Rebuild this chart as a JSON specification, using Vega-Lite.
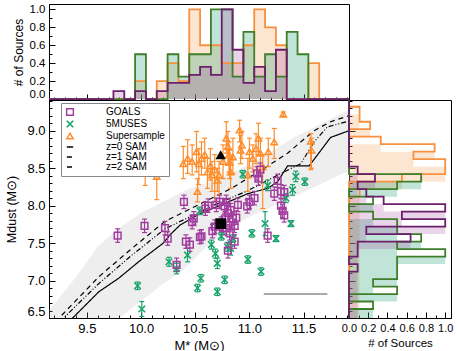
{
"$schema": "https://vega.github.io/schema/vega-lite/v6.json",
"padding": {"left": 5, "top": 2, "right": 0, "bottom": 0},
"background": "white",
"config": {
 "font": "Liberation Sans",
 "view": {"stroke": "#000", "strokeWidth": 1},
 "axis": {"domainColor": "#000", "tickColor": "#000", "labelColor": "#000", "titleColor": "#000", "grid": false, "labelFont": "Liberation Sans", "titleFont": "Liberation Sans", "titleFontWeight": "normal", "domainWidth": 1, "tickWidth": 1, "labelOverlap": false},
 "axisX": {"labelFlush": false},
 "axisY": {"labelFlush": true}
},
"datasets": {
 "band": [
  {"x":9.15,"y":6.5,"hi":6.6},{"x":9.4,"y":6.5,"hi":7.05},{"x":9.6,"y":6.5,"hi":7.45},{"x":9.8,"y":6.5,"hi":7.7},{"x":10.0,"y":6.73,"hi":7.9},{"x":10.2,"y":6.95,"hi":8.05},{"x":10.4,"y":7.15,"hi":8.2},{"x":10.6,"y":7.45,"hi":8.3},{"x":10.8,"y":7.67,"hi":8.42},{"x":11.0,"y":7.85,"hi":8.55},{"x":11.2,"y":7.98,"hi":8.72},{"x":11.4,"y":8.11,"hi":8.9},{"x":11.6,"y":8.25,"hi":9.05},{"x":11.92,"y":8.47,"hi":9.28}
 ],
 "sam": [
  {"series":"z=0 SAM","x":9.334,"y":6.45},{"series":"z=0 SAM","x":9.61,"y":6.85},{"series":"z=0 SAM","x":9.793,"y":7.03},{"series":"z=0 SAM","x":9.977,"y":7.25},{"series":"z=0 SAM","x":10.206,"y":7.5},{"series":"z=0 SAM","x":10.267,"y":7.61},{"series":"z=0 SAM","x":10.359,"y":7.74},{"series":"z=0 SAM","x":10.527,"y":7.88},{"series":"z=0 SAM","x":10.772,"y":8.03},{"series":"z=0 SAM","x":10.986,"y":8.16},{"series":"z=0 SAM","x":11.169,"y":8.23},{"series":"z=0 SAM","x":11.261,"y":8.32},{"series":"z=0 SAM","x":11.353,"y":8.53},{"series":"z=0 SAM","x":11.552,"y":8.53},{"series":"z=0 SAM","x":11.75,"y":8.91},{"series":"z=0 SAM","x":11.92,"y":9.0},
  {"series":"z=1 SAM","x":9.25,"y":6.45},{"series":"z=1 SAM","x":9.61,"y":6.96},{"series":"z=1 SAM","x":9.916,"y":7.34},{"series":"z=1 SAM","x":10.221,"y":7.69},{"series":"z=1 SAM","x":10.435,"y":7.84},{"series":"z=1 SAM","x":10.68,"y":8.01},{"series":"z=1 SAM","x":10.986,"y":8.2},{"series":"z=1 SAM","x":11.292,"y":8.43},{"series":"z=1 SAM","x":11.475,"y":8.56},{"series":"z=1 SAM","x":11.597,"y":8.85},{"series":"z=1 SAM","x":11.72,"y":9.05},{"series":"z=1 SAM","x":11.92,"y":9.13},
  {"series":"z=2 SAM","x":9.21,"y":6.45},{"series":"z=2 SAM","x":9.61,"y":7.05},{"series":"z=2 SAM","x":9.916,"y":7.43},{"series":"z=2 SAM","x":10.221,"y":7.79},{"series":"z=2 SAM","x":10.527,"y":8.01},{"series":"z=2 SAM","x":10.833,"y":8.23},{"series":"z=2 SAM","x":11.139,"y":8.5},{"series":"z=2 SAM","x":11.353,"y":8.7},{"series":"z=2 SAM","x":11.597,"y":9.0},{"series":"z=2 SAM","x":11.75,"y":9.12},{"series":"z=2 SAM","x":11.92,"y":9.2}
 ],
 "bar": [{"x":11.133,"x2":11.72,"y":6.82}],
 "black": [{"kind":"sq","x":10.735,"y":7.76},{"kind":"tri","x":10.735,"y":8.68}],
 "pts": [
  {"series":"Supersample","x":10.038,"y":8.46,"lo":8.27,"hi":8.53},
  {"series":"Supersample","x":10.145,"y":8.39,"lo":8.08,"hi":8.73},
  {"series":"Supersample","x":10.39,"y":8.56,"lo":8.36,"hi":8.79},
  {"series":"Supersample","x":10.43,"y":8.63,"lo":8.43,"hi":8.88},
  {"series":"Supersample","x":10.472,"y":8.59,"lo":8.41,"hi":8.81},
  {"series":"Supersample","x":10.512,"y":8.72,"lo":8.45,"hi":8.99},
  {"series":"Supersample","x":10.533,"y":8.56,"lo":8.28,"hi":8.76},
  {"series":"Supersample","x":10.521,"y":8.19,"lo":8.05,"hi":8.36},
  {"series":"Supersample","x":10.613,"y":8.45,"lo":8.23,"hi":8.63},
  {"series":"Supersample","x":10.64,"y":8.53,"lo":8.34,"hi":8.76},
  {"series":"Supersample","x":10.655,"y":8.41,"lo":8.19,"hi":8.59},
  {"series":"Supersample","x":10.68,"y":8.48,"lo":8.05,"hi":8.68},
  {"series":"Supersample","x":10.705,"y":8.34,"lo":8.19,"hi":8.5},
  {"series":"Supersample","x":10.72,"y":8.41,"lo":8.14,"hi":8.59},
  {"series":"Supersample","x":10.787,"y":8.9,"lo":8.7,"hi":9.12},
  {"series":"Supersample","x":10.802,"y":8.79,"lo":8.54,"hi":8.99},
  {"series":"Supersample","x":10.812,"y":8.68,"lo":8.45,"hi":8.85},
  {"series":"Supersample","x":10.818,"y":8.58,"lo":8.36,"hi":8.74},
  {"series":"Supersample","x":10.827,"y":8.45,"lo":8.23,"hi":8.63},
  {"series":"Supersample","x":10.91,"y":9.01,"lo":8.85,"hi":9.14},
  {"series":"Supersample","x":10.919,"y":8.74,"lo":8.56,"hi":8.94},
  {"series":"Supersample","x":10.931,"y":8.81,"lo":8.63,"hi":8.99},
  {"series":"Supersample","x":11.001,"y":8.72,"lo":8.5,"hi":8.9},
  {"series":"Supersample","x":11.062,"y":8.76,"lo":8.56,"hi":8.96},
  {"series":"Supersample","x":11.084,"y":8.9,"lo":8.68,"hi":9.1},
  {"series":"Supersample","x":11.102,"y":8.7,"lo":8.45,"hi":8.9},
  {"series":"Supersample","x":11.123,"y":8.52,"lo":7.96,"hi":8.68},
  {"series":"Supersample","x":11.175,"y":8.72,"lo":8.52,"hi":8.9},
  {"series":"Supersample","x":11.23,"y":8.85,"lo":8.63,"hi":9.03},
  {"series":"Supersample","x":11.313,"y":9.22,"lo":9.19,"hi":9.25},
  {"series":"Supersample","x":11.567,"y":8.86,"lo":8.48,"hi":8.96},
  {"series":"Supersample","x":11.573,"y":8.74,"lo":8.5,"hi":8.9},
  {"series":"Supersample","x":10.588,"y":8.68,"lo":8.5,"hi":8.9},
  {"series":"Supersample","x":10.558,"y":8.63,"lo":8.41,"hi":8.85},
  {"series":"Supersample","x":10.848,"y":8.65,"lo":8.43,"hi":8.9},
  {"series":"Supersample","x":10.986,"y":8.41,"lo":8.19,"hi":8.63},
  {"series":"Supersample","x":11.032,"y":8.63,"lo":8.45,"hi":8.81},
  {"series":"Supersample","x":10.757,"y":8.59,"lo":8.36,"hi":8.81},
  {"series":"5MUSES","x":9.968,"y":6.93,"lo":6.88,"hi":6.98},
  {"series":"5MUSES","x":10.007,"y":6.62,"lo":6.52,"hi":6.72},
  {"series":"5MUSES","x":10.258,"y":7.25,"lo":7.19,"hi":7.31},
  {"series":"5MUSES","x":10.328,"y":7.16,"lo":7.09,"hi":7.23},
  {"series":"5MUSES","x":10.429,"y":7.34,"lo":7.25,"hi":7.43},
  {"series":"5MUSES","x":10.521,"y":6.9,"lo":6.85,"hi":6.95},
  {"series":"5MUSES","x":10.552,"y":7.03,"lo":6.98,"hi":7.08},
  {"series":"5MUSES","x":10.543,"y":7.93,"lo":7.88,"hi":7.98},
  {"series":"5MUSES","x":10.649,"y":7.48,"lo":7.42,"hi":7.54},
  {"series":"5MUSES","x":10.686,"y":7.36,"lo":7.3,"hi":7.42},
  {"series":"5MUSES","x":10.704,"y":7.23,"lo":7.16,"hi":7.3},
  {"series":"5MUSES","x":10.704,"y":6.85,"lo":6.8,"hi":6.9},
  {"series":"5MUSES","x":10.741,"y":7.59,"lo":7.54,"hi":7.64},
  {"series":"5MUSES","x":10.772,"y":7.01,"lo":6.96,"hi":7.06},
  {"series":"5MUSES","x":10.827,"y":7.43,"lo":7.34,"hi":7.52},
  {"series":"5MUSES","x":10.848,"y":7.56,"lo":7.51,"hi":7.61},
  {"series":"5MUSES","x":10.94,"y":8.42,"lo":8.37,"hi":8.47},
  {"series":"5MUSES","x":10.986,"y":7.28,"lo":7.23,"hi":7.33},
  {"series":"5MUSES","x":11.023,"y":7.63,"lo":7.58,"hi":7.68},
  {"series":"5MUSES","x":11.108,"y":7.12,"lo":7.07,"hi":7.17},
  {"series":"5MUSES","x":11.145,"y":7.76,"lo":7.6,"hi":7.92},
  {"series":"5MUSES","x":11.169,"y":8.27,"lo":8.2,"hi":8.34},
  {"series":"5MUSES","x":11.246,"y":7.56,"lo":7.52,"hi":7.6},
  {"series":"5MUSES","x":11.338,"y":8.1,"lo":8.04,"hi":8.16},
  {"series":"5MUSES","x":11.384,"y":7.76,"lo":7.72,"hi":7.8},
  {"series":"5MUSES","x":11.399,"y":8.21,"lo":8.14,"hi":8.28},
  {"series":"5MUSES","x":11.429,"y":8.39,"lo":8.32,"hi":8.46},
  {"series":"5MUSES","x":11.512,"y":8.32,"lo":8.27,"hi":8.37},
  {"series":"5MUSES","x":10.796,"y":7.45,"lo":7.39,"hi":7.51},
  {"series":"GOALS","x":9.784,"y":7.6,"lo":7.51,"hi":7.69},
  {"series":"GOALS","x":10.032,"y":7.73,"lo":7.64,"hi":7.82},
  {"series":"GOALS","x":10.221,"y":7.7,"lo":7.61,"hi":7.79},
  {"series":"GOALS","x":10.246,"y":7.56,"lo":7.47,"hi":7.65},
  {"series":"GOALS","x":10.328,"y":7.21,"lo":7.12,"hi":7.3},
  {"series":"GOALS","x":10.396,"y":8.05,"lo":7.96,"hi":8.14},
  {"series":"GOALS","x":10.414,"y":7.52,"lo":7.43,"hi":7.61},
  {"series":"GOALS","x":10.451,"y":7.48,"lo":7.39,"hi":7.57},
  {"series":"GOALS","x":10.472,"y":7.78,"lo":7.69,"hi":7.87},
  {"series":"GOALS","x":10.487,"y":7.83,"lo":7.74,"hi":7.92},
  {"series":"GOALS","x":10.543,"y":7.58,"lo":7.49,"hi":7.67},
  {"series":"GOALS","x":10.558,"y":7.59,"lo":7.5,"hi":7.68},
  {"series":"GOALS","x":10.594,"y":7.96,"lo":7.87,"hi":8.05},
  {"series":"GOALS","x":10.619,"y":8.0,"lo":7.91,"hi":8.09},
  {"series":"GOALS","x":10.659,"y":7.66,"lo":7.57,"hi":7.75},
  {"series":"GOALS","x":10.68,"y":7.72,"lo":7.63,"hi":7.81},
  {"series":"GOALS","x":10.695,"y":8.01,"lo":7.92,"hi":8.1},
  {"series":"GOALS","x":10.726,"y":8.05,"lo":7.96,"hi":8.14},
  {"series":"GOALS","x":10.741,"y":7.76,"lo":7.67,"hi":7.85},
  {"series":"GOALS","x":10.772,"y":7.99,"lo":7.9,"hi":8.08},
  {"series":"GOALS","x":10.787,"y":8.05,"lo":7.96,"hi":8.14},
  {"series":"GOALS","x":10.802,"y":7.9,"lo":7.81,"hi":7.99},
  {"series":"GOALS","x":10.818,"y":7.74,"lo":7.65,"hi":7.83},
  {"series":"GOALS","x":10.827,"y":7.94,"lo":7.85,"hi":8.03},
  {"series":"GOALS","x":10.802,"y":7.4,"lo":7.3,"hi":7.5},
  {"series":"GOALS","x":10.778,"y":7.83,"lo":7.74,"hi":7.92},
  {"series":"GOALS","x":10.757,"y":7.7,"lo":7.61,"hi":7.79},
  {"series":"GOALS","x":10.848,"y":7.83,"lo":7.74,"hi":7.92},
  {"series":"GOALS","x":10.864,"y":7.73,"lo":7.64,"hi":7.82},
  {"series":"GOALS","x":10.879,"y":7.84,"lo":7.75,"hi":7.93},
  {"series":"GOALS","x":10.894,"y":8.01,"lo":7.92,"hi":8.1},
  {"series":"GOALS","x":10.98,"y":7.99,"lo":7.9,"hi":8.08},
  {"series":"GOALS","x":11.001,"y":8.05,"lo":7.96,"hi":8.14},
  {"series":"GOALS","x":11.047,"y":8.1,"lo":8.01,"hi":8.19},
  {"series":"GOALS","x":11.071,"y":8.43,"lo":8.34,"hi":8.52},
  {"series":"GOALS","x":11.084,"y":8.36,"lo":8.27,"hi":8.45},
  {"series":"GOALS","x":11.102,"y":8.48,"lo":8.39,"hi":8.57},
  {"series":"GOALS","x":11.169,"y":7.6,"lo":7.51,"hi":7.69},
  {"series":"GOALS","x":11.261,"y":8.33,"lo":8.24,"hi":8.42},
  {"series":"GOALS","x":11.292,"y":8.19,"lo":8.1,"hi":8.28},
  {"series":"GOALS","x":11.322,"y":8.18,"lo":8.09,"hi":8.27},
  {"series":"GOALS","x":11.292,"y":8.0,"lo":7.91,"hi":8.09},
  {"series":"GOALS","x":11.307,"y":7.93,"lo":7.84,"hi":8.02},
  {"series":"GOALS","x":11.322,"y":7.87,"lo":7.78,"hi":7.96},
  {"series":"GOALS","x":10.864,"y":7.52,"lo":7.43,"hi":7.61},
  {"series":"GOALS","x":10.787,"y":7.7,"lo":7.61,"hi":7.79},
  {"series":"GOALS","x":10.818,"y":7.63,"lo":7.54,"hi":7.72},
  {"series":"GOALS","x":11.23,"y":8.16,"lo":8.07,"hi":8.25}
 ],
 "top": [
  {"s":"Supersample","x":9.15,"v":0},{"s":"Supersample","x":9.745,"v":0},{"s":"Supersample","x":9.845,"v":0},{"s":"Supersample","x":9.945,"v":0.2},{"s":"Supersample","x":10.045,"v":0},{"s":"Supersample","x":10.145,"v":0.2},{"s":"Supersample","x":10.245,"v":0.4},{"s":"Supersample","x":10.345,"v":0.2},{"s":"Supersample","x":10.445,"v":1.0},{"s":"Supersample","x":10.545,"v":0.6},{"s":"Supersample","x":10.645,"v":0.6},{"s":"Supersample","x":10.745,"v":0.4},{"s":"Supersample","x":10.845,"v":0.4},{"s":"Supersample","x":10.945,"v":0.6},{"s":"Supersample","x":11.045,"v":1.0},{"s":"Supersample","x":11.145,"v":0.8},{"s":"Supersample","x":11.245,"v":0.6},{"s":"Supersample","x":11.345,"v":0},{"s":"Supersample","x":11.445,"v":0},{"s":"Supersample","x":11.545,"v":0.4},{"s":"Supersample","x":11.645,"v":0},{"s":"Supersample","x":11.92,"v":0},
  {"s":"5MUSES","x":9.15,"v":0},{"s":"5MUSES","x":9.945,"v":0.5},{"s":"5MUSES","x":10.045,"v":0},{"s":"5MUSES","x":10.145,"v":0},{"s":"5MUSES","x":10.245,"v":0.5},{"s":"5MUSES","x":10.345,"v":0.25},{"s":"5MUSES","x":10.445,"v":0.5},{"s":"5MUSES","x":10.545,"v":0.5},{"s":"5MUSES","x":10.645,"v":1.0},{"s":"5MUSES","x":10.745,"v":1.0},{"s":"5MUSES","x":10.845,"v":0.25},{"s":"5MUSES","x":10.945,"v":0.75},{"s":"5MUSES","x":11.045,"v":0.25},{"s":"5MUSES","x":11.145,"v":0.5},{"s":"5MUSES","x":11.245,"v":0.25},{"s":"5MUSES","x":11.345,"v":0.75},{"s":"5MUSES","x":11.445,"v":0.5},{"s":"5MUSES","x":11.545,"v":0},{"s":"5MUSES","x":11.92,"v":0},
  {"s":"GOALS","x":9.15,"v":0},{"s":"GOALS","x":9.745,"v":0.09},{"s":"GOALS","x":9.845,"v":0},{"s":"GOALS","x":9.945,"v":0.09},{"s":"GOALS","x":10.045,"v":0},{"s":"GOALS","x":10.145,"v":0.09},{"s":"GOALS","x":10.245,"v":0.18},{"s":"GOALS","x":10.345,"v":0.18},{"s":"GOALS","x":10.445,"v":0.27},{"s":"GOALS","x":10.545,"v":0.36},{"s":"GOALS","x":10.645,"v":0.27},{"s":"GOALS","x":10.745,"v":1.0},{"s":"GOALS","x":10.845,"v":0.55},{"s":"GOALS","x":10.945,"v":0.18},{"s":"GOALS","x":11.045,"v":0.36},{"s":"GOALS","x":11.145,"v":0.09},{"s":"GOALS","x":11.245,"v":0.55},{"s":"GOALS","x":11.345,"v":0},{"s":"GOALS","x":11.92,"v":0}
 ],
 "right": [
  {"s":"Supersample","y":6.5,"v":0},{"s":"Supersample","y":8.12,"v":0.11},{"s":"Supersample","y":8.22,"v":0},{"s":"Supersample","y":8.32,"v":0.55},{"s":"Supersample","y":8.42,"v":1.0},{"s":"Supersample","y":8.52,"v":1.0},{"s":"Supersample","y":8.62,"v":0.67},{"s":"Supersample","y":8.72,"v":0.89},{"s":"Supersample","y":8.82,"v":0.33},{"s":"Supersample","y":8.92,"v":0},{"s":"Supersample","y":9.02,"v":0.22},{"s":"Supersample","y":9.12,"v":0.11},{"s":"Supersample","y":9.22,"v":0.11},{"s":"Supersample","y":9.32,"v":0},{"s":"Supersample","y":9.41,"v":0},
  {"s":"5MUSES","y":6.5,"v":0},{"s":"5MUSES","y":6.62,"v":0.25},{"s":"5MUSES","y":6.72,"v":0},{"s":"5MUSES","y":6.82,"v":0.5},{"s":"5MUSES","y":6.92,"v":0.25},{"s":"5MUSES","y":7.02,"v":0.5},{"s":"5MUSES","y":7.12,"v":0.5},{"s":"5MUSES","y":7.22,"v":0.5},{"s":"5MUSES","y":7.32,"v":1.0},{"s":"5MUSES","y":7.42,"v":0.5},{"s":"5MUSES","y":7.52,"v":0.75},{"s":"5MUSES","y":7.62,"v":0.5},{"s":"5MUSES","y":7.72,"v":0.5},{"s":"5MUSES","y":7.82,"v":0.25},{"s":"5MUSES","y":7.92,"v":0},{"s":"5MUSES","y":8.02,"v":0.25},{"s":"5MUSES","y":8.12,"v":0},{"s":"5MUSES","y":8.22,"v":0.5},{"s":"5MUSES","y":8.32,"v":0.75},{"s":"5MUSES","y":8.42,"v":0},{"s":"5MUSES","y":9.41,"v":0},
  {"s":"GOALS","y":6.5,"v":0},{"s":"GOALS","y":7.12,"v":0.09},{"s":"GOALS","y":7.22,"v":0},{"s":"GOALS","y":7.32,"v":0.09},{"s":"GOALS","y":7.42,"v":0.09},{"s":"GOALS","y":7.52,"v":0.64},{"s":"GOALS","y":7.62,"v":0.18},{"s":"GOALS","y":7.72,"v":1.0},{"s":"GOALS","y":7.82,"v":0.55},{"s":"GOALS","y":7.92,"v":1.0},{"s":"GOALS","y":8.02,"v":0.36},{"s":"GOALS","y":8.12,"v":0.18},{"s":"GOALS","y":8.22,"v":0.09},{"s":"GOALS","y":8.32,"v":0.27},{"s":"GOALS","y":8.42,"v":0.09},{"s":"GOALS","y":8.52,"v":0},{"s":"GOALS","y":9.41,"v":0}
 ]
},
"columns": 2,
"spacing": 0,
"bounds": "flush",
"resolve": {"scale": {"color": "independent", "shape": "independent", "size": "independent", "strokeDash": "independent"}, "legend": {"color": "independent", "shape": "independent", "size": "independent", "strokeDash": "independent"}},
"concat": [
 {
  "width": 300, "height": 96,
  "data": {"name": "top"},
  "encoding": {
   "x": {"field": "x", "type": "quantitative", "scale": {"domain": [9.15, 11.92], "nice": false, "zero": false},
    "axis": {"title": null, "values": [9.2,9.3,9.4,9.5,9.6,9.7,9.8,9.9,10,10.1,10.2,10.3,10.4,10.5,10.6,10.7,10.8,10.9,11,11.1,11.2,11.3,11.4,11.5,11.6,11.7,11.8,11.9], "labels": false,
     "tickSize": {"condition": {"test": "abs(datum.value*2-round(datum.value*2))<0.001", "value": -6}, "value": -3}}},
   "y": {"field": "v", "type": "quantitative", "scale": {"domain": [-0.01, 1.06], "nice": false},
    "axis": {"title": "# of Sources", "values": [0,0.1,0.2,0.3,0.4,0.5,0.6,0.7,0.8,0.9,1], "labelExpr": "abs(datum.value*5-round(datum.value*5))<0.001 ? format(datum.value,'.1f') : ''",
     "tickSize": {"condition": {"test": "abs(datum.value*5-round(datum.value*5))<0.001", "value": -6}, "value": -3},
     "labelPadding": 10, "labelFontSize": 11.5, "titleFontSize": 12, "titlePadding": 4}}
  },
  "layer": [
   {"transform": [{"filter": "datum.s==='Supersample'"}], "mark": {"type": "area", "interpolate": "step-after", "color": "#f9a75a", "opacity": 0.28}},
   {"transform": [{"filter": "datum.s==='5MUSES'"}], "mark": {"type": "area", "interpolate": "step-after", "color": "#2fa57d", "opacity": 0.3}},
   {"transform": [{"filter": "datum.s==='GOALS'"}], "mark": {"type": "area", "interpolate": "step-after", "color": "#9b3d9b", "opacity": 0.22}},
   {"transform": [{"filter": "datum.s==='Supersample'"}], "mark": {"type": "line", "interpolate": "step-after", "color": "#f7903f", "strokeWidth": 1.8}},
   {"transform": [{"filter": "datum.s==='5MUSES'"}], "mark": {"type": "line", "interpolate": "step-after", "color": "#3f7f2a", "strokeWidth": 1.8}},
   {"transform": [{"filter": "datum.s==='GOALS'"}], "mark": {"type": "line", "interpolate": "step-after", "color": "#6b1f6b", "strokeWidth": 1.8}}
  ]
 },
 {
  "width": 102, "height": 96,
  "view": {"stroke": null},
  "data": {"values": [{"a": 0}]},
  "mark": {"type": "point", "opacity": 0},
  "encoding": {}
 },
 {
  "width": 300, "height": 218,
  "encoding": {
   "x": {"field": "x", "type": "quantitative", "scale": {"domain": [9.15, 11.92], "nice": false, "zero": false},
    "axis": {"title": "M* (M⊙)", "values": [9.2,9.3,9.4,9.5,9.6,9.7,9.8,9.9,10,10.1,10.2,10.3,10.4,10.5,10.6,10.7,10.8,10.9,11,11.1,11.2,11.3,11.4,11.5,11.6,11.7,11.8,11.9],
     "labelExpr": "abs(datum.value*2-round(datum.value*2))<0.001 ? format(datum.value,'.1f') : ''",
     "tickSize": {"condition": {"test": "abs(datum.value*2-round(datum.value*2))<0.001", "value": -6}, "value": -3},
     "labelPadding": 10, "labelFontSize": 13, "titleFontSize": 13, "titlePadding": 1, "labelOverlap": false, "labelFlush": false}},
   "y": {"field": "y", "type": "quantitative", "scale": {"domain": [6.5, 9.41], "nice": false, "zero": false},
    "axis": {"title": "Mdust (M⊙)", "values": [6.5,6.6,6.7,6.8,6.9,7,7.1,7.2,7.3,7.4,7.5,7.6,7.7,7.8,7.9,8,8.1,8.2,8.3,8.4,8.5,8.6,8.7,8.8,8.9,9,9.1,9.2,9.3,9.4],
     "labelExpr": "abs(datum.value*2-round(datum.value*2))<0.001 ? format(datum.value,'.1f') : ''",
     "tickSize": {"condition": {"test": "abs(datum.value*2-round(datum.value*2))<0.001", "value": -6}, "value": -3},
     "labelPadding": 10, "labelFontSize": 13, "titleFontSize": 12.5, "titlePadding": 8, "labelOverlap": false, "labelFlush": true}}
  },
  "layer": [
   {"data": {"name": "band"}, "mark": {"type": "area", "color": "#a8a8a8", "opacity": 0.2, "clip": true},
    "encoding": {"y2": {"field": "hi"}}},
   {"data": {"name": "sam"}, "mark": {"type": "line", "strokeWidth": 1.2, "clip": true},
    "encoding": {
     "color": {"field": "series", "type": "nominal",
      "scale": {"domain": ["GOALS","5MUSES","Supersample","z=0 SAM","z=1 SAM","z=2 SAM"], "range": ["#a23c9f","#16a36a","#ff8c2a","#000000","#000000","#000000"]},
      "legend": {"orient": "none", "legendX": 12, "legendY": 3, "title": null, "strokeColor": "#888", "fillColor": "#fff", "padding": 4, "labelFontSize": 10, "labelFont": "Liberation Sans", "symbolStrokeWidth": 1.5, "symbolFillColor": "transparent", "rowPadding": -5, "labelOffset": 31, "labelLimit": 200}},
     "strokeDash": {"field": "series", "type": "nominal",
      "scale": {"domain": ["GOALS","5MUSES","Supersample","z=0 SAM","z=1 SAM","z=2 SAM"], "range": [[1,0],[1,0],[1,0],[1,0],[5,2,1,2,1,2],[5,4]]}}}},
   {"data": {"name": "bar"}, "mark": {"type": "rule", "color": "#555", "strokeWidth": 1},
    "encoding": {"x2": {"field": "x2"}}},
   {"data": {"name": "pts"}, "mark": {"type": "rule", "strokeWidth": 1.2},
    "encoding": {
     "y": {"field": "lo", "type": "quantitative", "scale": {"domain": [6.5, 9.41], "nice": false, "zero": false},
      "axis": {"title": "Mdust (M⊙)", "values": [6.5,6.6,6.7,6.8,6.9,7,7.1,7.2,7.3,7.4,7.5,7.6,7.7,7.8,7.9,8,8.1,8.2,8.3,8.4,8.5,8.6,8.7,8.8,8.9,9,9.1,9.2,9.3,9.4],
       "labelExpr": "abs(datum.value*2-round(datum.value*2))<0.001 ? format(datum.value,'.1f') : ''",
       "tickSize": {"condition": {"test": "abs(datum.value*2-round(datum.value*2))<0.001", "value": -6}, "value": -3},
       "labelPadding": 10, "labelFontSize": 13, "titleFontSize": 12.5, "titlePadding": 8, "labelOverlap": false, "labelFlush": true}},
     "y2": {"field": "hi"},
     "color": {"field": "series", "type": "nominal", "scale": {"domain": ["GOALS","5MUSES","Supersample","z=0 SAM","z=1 SAM","z=2 SAM"], "range": ["#a23c9f","#16a36a","#ff8c2a","#000000","#000000","#000000"]}}}},
   {"data": {"name": "pts"}, "transform": [{"fold": ["lo", "hi"], "as": ["k", "y"]}], "mark": {"type": "rule", "strokeWidth": 1.2, "xOffset": -2.5, "x2Offset": 2.5},
    "encoding": {"x2": {"field": "x"},
     "color": {"field": "series", "type": "nominal", "scale": {"domain": ["GOALS","5MUSES","Supersample","z=0 SAM","z=1 SAM","z=2 SAM"], "range": ["#a23c9f","#16a36a","#ff8c2a","#000000","#000000","#000000"]}}}},
   {"data": {"name": "pts"}, "mark": {"type": "point", "filled": false, "strokeWidth": 1.5, "opacity": 1},
    "encoding": {
     "color": {"field": "series", "type": "nominal", "scale": {"domain": ["GOALS","5MUSES","Supersample","z=0 SAM","z=1 SAM","z=2 SAM"], "range": ["#a23c9f","#16a36a","#ff8c2a","#000000","#000000","#000000"]}},
     "shape": {"field": "series", "type": "nominal", "scale": {"domain": ["GOALS","5MUSES","Supersample","z=0 SAM","z=1 SAM","z=2 SAM"], "range": ["square","M-1,-1L1,1M1,-1L-1,1","triangle-up","stroke","stroke","stroke"]}},
     "size": {"field": "series", "type": "nominal", "scale": {"domain": ["GOALS","5MUSES","Supersample","z=0 SAM","z=1 SAM","z=2 SAM"], "range": [45,36,55,196,196,196]}}}},
   {"data": {"name": "black"}, "transform": [{"filter": "datum.kind==='sq'"}], "mark": {"type": "square", "size": 115, "color": "#000", "opacity": 1}, "encoding": {}},
   {"data": {"name": "black"}, "transform": [{"filter": "datum.kind==='tri'"}], "mark": {"type": "point", "shape": "triangle-up", "filled": true, "size": 110, "color": "#000", "opacity": 1}, "encoding": {}}
  ]
 },
 {
  "width": 102, "height": 218,
  "data": {"name": "right"},
  "encoding": {
   "x": {"field": "v", "type": "quantitative", "scale": {"domain": [0, 1.06], "nice": false},
    "axis": {"title": "# of Sources", "values": [0,0.1,0.2,0.3,0.4,0.5,0.6,0.7,0.8,0.9,1], "labelExpr": "abs(datum.value*5-round(datum.value*5))<0.001 ? format(datum.value,'.1f') : ''",
     "tickSize": {"condition": {"test": "abs(datum.value*5-round(datum.value*5))<0.001", "value": -6}, "value": -3},
     "labelPadding": 10, "labelFontSize": 11, "titleFontSize": 11.5, "titlePadding": 1}},
   "y": {"field": "y", "type": "quantitative", "scale": {"domain": [6.5, 9.41], "nice": false, "zero": false},
    "axis": {"title": null, "labels": false, "values": [6.5,6.6,6.7,6.8,6.9,7,7.1,7.2,7.3,7.4,7.5,7.6,7.7,7.8,7.9,8,8.1,8.2,8.3,8.4,8.5,8.6,8.7,8.8,8.9,9,9.1,9.2,9.3,9.4],
     "tickSize": {"condition": {"test": "abs(datum.value*2-round(datum.value*2))<0.001", "value": -6}, "value": -3}}}
  },
  "layer": [
   {"transform": [{"filter": "datum.s==='Supersample'"}], "mark": {"type": "area", "orient": "horizontal", "interpolate": "step-before", "color": "#f9a75a", "opacity": 0.28}},
   {"transform": [{"filter": "datum.s==='5MUSES'"}], "mark": {"type": "area", "orient": "horizontal", "interpolate": "step-before", "color": "#2fa57d", "opacity": 0.3}},
   {"transform": [{"filter": "datum.s==='GOALS'"}], "mark": {"type": "area", "orient": "horizontal", "interpolate": "step-before", "color": "#9b3d9b", "opacity": 0.22}},
   {"transform": [{"filter": "datum.s==='Supersample'"}], "mark": {"type": "line", "interpolate": "step-before", "color": "#f7903f", "strokeWidth": 1.8}, "encoding": {"order": {"field": "y", "type": "quantitative"}}},
   {"transform": [{"filter": "datum.s==='5MUSES'"}], "mark": {"type": "line", "interpolate": "step-before", "color": "#3f7f2a", "strokeWidth": 1.8}, "encoding": {"order": {"field": "y", "type": "quantitative"}}},
   {"transform": [{"filter": "datum.s==='GOALS'"}], "mark": {"type": "line", "interpolate": "step-before", "color": "#6b1f6b", "strokeWidth": 1.8}, "encoding": {"order": {"field": "y", "type": "quantitative"}}}
  ]
 }
]
}
